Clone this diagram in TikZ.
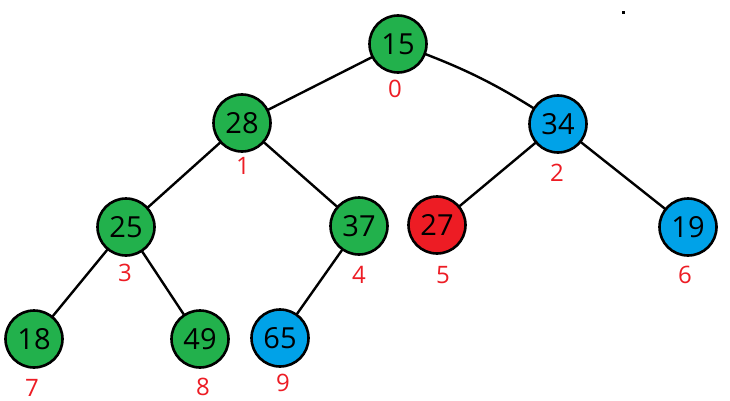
\documentclass[tikz,border=0pt]{standalone}
\usepackage{fontspec}
\setmainfont{Open Sans}
\definecolor{pgreen}{HTML}{22B14C}
\definecolor{pblue}{HTML}{00A2E8}
\definecolor{pred}{HTML}{ED1C24}
\begin{document}
\begin{tikzpicture}[x=1pt,y=-1pt,
  heapnode/.style={circle,draw=black,line width=2.6pt,minimum size=57pt,inner sep=0pt,
    font=\fontsize{29}{31}\selectfont,text=black},
  gnode/.style={heapnode,fill=pgreen},
  bnode/.style={heapnode,fill=pblue},
  rnode/.style={heapnode,fill=pred},
  lbl/.style={text=pred,font=\fontsize{24}{26}\selectfont,inner sep=0pt},
  edge/.style={line width=2.4pt,draw=black}]
\useasboundingbox[fill=white] (0,0) rectangle (730,401);
% edges drawn first
\coordinate (c15) at (398,44);
\coordinate (c28) at (242,123);
\coordinate (c34) at (558,124);
\coordinate (c25) at (126,227);
\coordinate (c37) at (359,226);
\coordinate (c27) at (437,225);
\coordinate (c19) at (688,227);
\coordinate (c18) at (34,339);
\coordinate (c49) at (200,339);
\coordinate (c65) at (280,338);
\draw[edge] (c15) -- (c28);
\draw[edge] (c15) to[bend left=7] (c34);
\draw[edge] (c28) -- (c25);
\draw[edge] (c28) -- (c37);
\draw[edge] (c34) -- (c27);
\draw[edge] (c34) -- (c19);
\draw[edge] (c25) -- (c18);
\draw[edge] (c25) -- (c49);
\draw[edge] (c37) -- (c65);
% nodes
\node[gnode] (n15) at (c15) {15};
\node[gnode] (n28) at (c28) {28};
\node[bnode] (n34) at (c34) {34};
\node[gnode] (n25) at (c25) {25};
\node[gnode] (n37) at (c37) {37};
\node[rnode] (n27) at (c27) {27};
\node[bnode] (n19) at (c19) {19};
\node[gnode] (n18) at (c18) {18};
\node[gnode] (n49) at (c49) {49};
\node[bnode] (n65) at (c65) {65};
% index labels
\node[lbl] (l0) at (395,89) {0};
\node[lbl] (l1) at (243,166) {1};
\node[lbl] (l2) at (557,173) {2};
\node[lbl] (l3) at (125,273) {3};
\node[lbl] (l4) at (359,275) {4};
\node[lbl] (l5) at (443,275) {5};
\node[lbl] (l6) at (685,275) {6};
\node[lbl] (l7) at (32,388) {7};
\node[lbl] (l8) at (203,387) {8};
\node[lbl] (l9) at (283,383) {9};
% stray dot
\fill[black] (621.5,11.5) rectangle (624.5,14.5);
\end{tikzpicture}
\end{document}
